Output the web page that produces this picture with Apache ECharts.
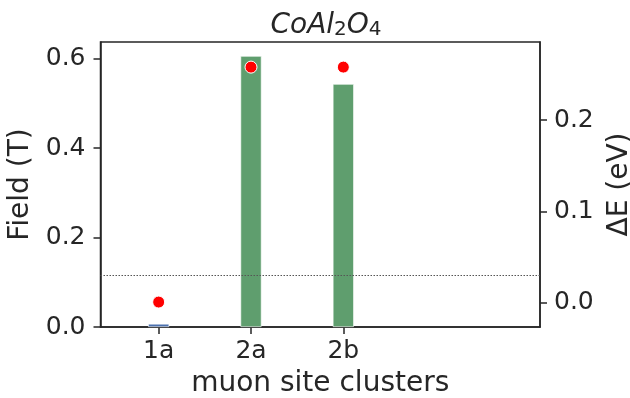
<!DOCTYPE html>
<html>
<head>
<meta charset="utf-8">
<script src="https://cdn.jsdelivr.net/npm/echarts@6/dist/echarts.min.js"></script>
<style>html,body{margin:0;padding:0;background:#fff}#c{width:630px;height:398px}</style>
</head>
<body>
<div id="c"></div>
<script>
// ---- data ----
var categories = ['1a', '2a', '2b'];
var fieldValues = [0.007, 0.6056, 0.543];      // Field (T), bars
var deltaE = [0.0008, 0.258, 0.258];           // ΔE (eV), red dots
var kTLine = 0.025;                             // dotted reference (eV)
var leftTicks = [0.0, 0.2, 0.4, 0.6];
var rightTicks = [0.0, 0.1, 0.2];
var xTicks = [0, 1, 2];

var TXT = '#262626';
var FONT = 'DejaVu Sans';
var chart = echarts.init(document.getElementById('c'), null, {renderer: 'canvas'});

var barColors = ['#4c72b0', '#5f9e6e', '#5f9e6e'];

chart.setOption({
  animation: false,
  backgroundColor: '#fff',
  textStyle: {fontFamily: FONT, color: TXT},
  title: {
    text: '{i|CoAl}{s|2}{i|O}{s|4}',
    left: 321, top: 3, textAlign: 'center',
    textStyle: {
      fontWeight: 'normal', fontSize: 28,
      rich: {
        i: {fontFamily: FONT, fontStyle: 'italic', fontWeight: 'normal', fontSize: 28, color: TXT, lineHeight: 32, verticalAlign: 'bottom'},
        s: {fontFamily: FONT, fontWeight: 'normal', fontSize: 20, color: TXT, lineHeight: 19, verticalAlign: 'bottom'}
      }
    }
  },
  grid: {left: 100.5, right: 90, top: 42, bottom: 71, show: true, borderColor: TXT, borderWidth: 1.5,
         backgroundColor: 'transparent', outerBoundsMode: 'none', containLabel: false},
  xAxis: {
    type: 'value', min: -0.63, max: 4.13,
    name: 'muon site clusters', nameLocation: 'middle', nameGap: 43,
    nameTextStyle: {fontSize: 28, color: TXT, fontFamily: FONT},
    axisLine: {show: true, onZero: false, lineStyle: {color: TXT, width: 1.5}},
    axisTick: {show: true, length: 7, customValues: xTicks, lineStyle: {color: TXT, width: 1.5}},
    axisLabel: {customValues: xTicks, fontSize: 25, color: TXT, margin: 12,
      formatter: function (v) { return categories[Math.round(v)] || ''; }},
    splitLine: {show: false}
  },
  yAxis: [{
    type: 'value', min: 0, max: 0.637, position: 'left',
    name: 'Field (T)', nameLocation: 'middle', nameGap: 54, nameRotate: 90,
    nameTextStyle: {fontSize: 28, color: TXT, fontFamily: FONT},
    axisLine: {show: true, onZero: false, lineStyle: {color: TXT, width: 1.5}},
    axisTick: {show: true, length: 7, customValues: leftTicks, lineStyle: {color: TXT, width: 1.5}},
    axisLabel: {customValues: leftTicks, fontSize: 25, color: TXT, margin: 15,
      formatter: function (v) { return v.toFixed(1); }},
    splitLine: {show: false}
  }, {
    type: 'value', min: -0.0265, max: 0.2855, position: 'right',
    name: 'ΔE (eV)', nameLocation: 'middle', nameGap: 66, nameRotate: 90,
    nameTextStyle: {fontSize: 28, color: TXT, fontFamily: FONT},
    axisLine: {show: true, onZero: false, lineStyle: {color: TXT, width: 1.5}},
    axisTick: {show: true, length: 7, customValues: rightTicks, lineStyle: {color: TXT, width: 1.5}},
    axisLabel: {customValues: rightTicks, fontSize: 25, color: TXT, margin: 14,
      formatter: function (v) { return v.toFixed(1); }},
    splitLine: {show: false}
  }],
  series: [{
    type: 'bar', yAxisIndex: 0, barWidth: 21,
    data: fieldValues.map(function (v, i) { return [xTicks[i], v]; }),
    itemStyle: {
      color: function (p) { return barColors[p.dataIndex]; },
      borderColor: '#ffffff', borderWidth: 0.6
    },
    z: 2
  }, {
    type: 'scatter', yAxisIndex: 1, symbolSize: 12,
    data: deltaE.map(function (v, i) { return [xTicks[i], v]; }),
    itemStyle: {color: '#ff0000', borderColor: '#ffffff', borderWidth: 1, opacity: 1},
    z: 4,
    markLine: {
      silent: true, symbol: ['none', 'none'],
      label: {show: false},
      lineStyle: {type: [1.5, 1.5], color: '#555', width: 1.2},
      data: [{yAxis: kTLine}]
    }
  }]
});
</script>
</body>
</html>
